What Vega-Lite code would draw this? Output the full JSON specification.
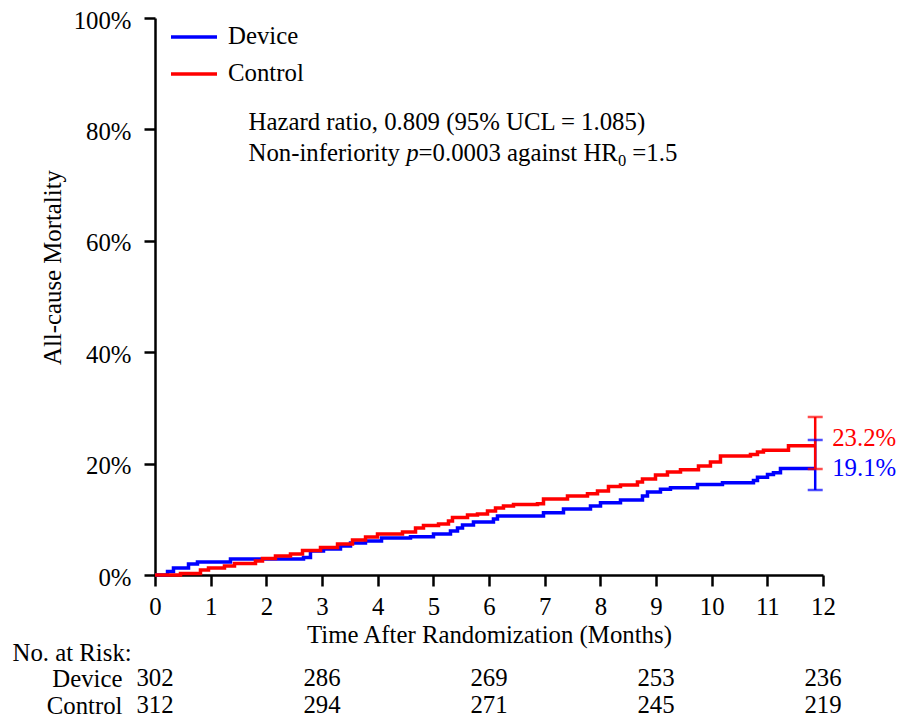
{
  "$schema": "https://vega.github.io/schema/vega-lite/v6.json",
  "autosize": {"type": "pad"},
  "padding": {"left": 12, "top": 8, "right": 5, "bottom": 2},
  "background": "white",
  "bounds": "flush",
  "spacing": 104,
  "config": {
    "font": "Liberation Serif",
    "view": {"stroke": null},
    "axis": {"labelFont": "Liberation Serif", "titleFont": "Liberation Serif", "labelColor": "black", "titleColor": "black", "domainColor": "black", "tickColor": "black", "grid": false, "labelFontSize": 24.8, "titleFontSize": 24.8, "titleFontWeight": "normal"},
    "legend": {"labelFont": "Liberation Serif", "labelFontSize": 24.8, "labelColor": "black"},
    "text": {"font": "Liberation Serif", "fontSize": 24.8}
  },
  "datasets": {
    "km": [
      {"group": "Device", "t": 0, "pct": 0},
      {"group": "Device", "t": 0.225, "pct": 0.63},
      {"group": "Device", "t": 0.332, "pct": 1.26},
      {"group": "Device", "t": 0.602, "pct": 1.97},
      {"group": "Device", "t": 0.763, "pct": 2.33},
      {"group": "Device", "t": 1.356, "pct": 2.87},
      {"group": "Device", "t": 2.668, "pct": 3.14},
      {"group": "Device", "t": 2.793, "pct": 4.31},
      {"group": "Device", "t": 3.027, "pct": 4.67},
      {"group": "Device", "t": 3.332, "pct": 5.21},
      {"group": "Device", "t": 3.512, "pct": 5.75},
      {"group": "Device", "t": 3.781, "pct": 6.10},
      {"group": "Device", "t": 4.069, "pct": 6.64},
      {"group": "Device", "t": 4.590, "pct": 6.88},
      {"group": "Device", "t": 5.003, "pct": 7.36},
      {"group": "Device", "t": 5.308, "pct": 7.90},
      {"group": "Device", "t": 5.434, "pct": 8.44},
      {"group": "Device", "t": 5.524, "pct": 8.98},
      {"group": "Device", "t": 5.721, "pct": 9.52},
      {"group": "Device", "t": 6.080, "pct": 10.05},
      {"group": "Device", "t": 6.152, "pct": 10.59},
      {"group": "Device", "t": 6.979, "pct": 11.19},
      {"group": "Device", "t": 7.338, "pct": 11.85},
      {"group": "Device", "t": 7.823, "pct": 12.39},
      {"group": "Device", "t": 8.003, "pct": 12.98},
      {"group": "Device", "t": 8.362, "pct": 13.46},
      {"group": "Device", "t": 8.757, "pct": 14.18},
      {"group": "Device", "t": 8.847, "pct": 14.90},
      {"group": "Device", "t": 9.080, "pct": 15.38},
      {"group": "Device", "t": 9.260, "pct": 15.67},
      {"group": "Device", "t": 9.745, "pct": 16.27},
      {"group": "Device", "t": 10.194, "pct": 16.55},
      {"group": "Device", "t": 10.751, "pct": 16.98},
      {"group": "Device", "t": 10.823, "pct": 17.57},
      {"group": "Device", "t": 11.003, "pct": 18.06},
      {"group": "Device", "t": 11.110, "pct": 18.36},
      {"group": "Device", "t": 11.236, "pct": 19.10},
      {"group": "Device", "t": 11.86, "pct": 19.10},
      {"group": "Control", "t": 0, "pct": 0},
      {"group": "Control", "t": 0.458, "pct": 0.27},
      {"group": "Control", "t": 0.817, "pct": 0.90},
      {"group": "Control", "t": 0.961, "pct": 1.26},
      {"group": "Control", "t": 1.248, "pct": 1.62},
      {"group": "Control", "t": 1.428, "pct": 2.06},
      {"group": "Control", "t": 1.805, "pct": 2.51},
      {"group": "Control", "t": 1.931, "pct": 2.96},
      {"group": "Control", "t": 2.164, "pct": 3.41},
      {"group": "Control", "t": 2.434, "pct": 3.77},
      {"group": "Control", "t": 2.650, "pct": 4.40},
      {"group": "Control", "t": 2.973, "pct": 4.94},
      {"group": "Control", "t": 3.279, "pct": 5.57},
      {"group": "Control", "t": 3.548, "pct": 6.28},
      {"group": "Control", "t": 3.782, "pct": 6.82},
      {"group": "Control", "t": 3.997, "pct": 7.36},
      {"group": "Control", "t": 4.446, "pct": 7.72},
      {"group": "Control", "t": 4.680, "pct": 8.44},
      {"group": "Control", "t": 4.823, "pct": 8.89},
      {"group": "Control", "t": 5.093, "pct": 9.16},
      {"group": "Control", "t": 5.272, "pct": 9.69},
      {"group": "Control", "t": 5.344, "pct": 10.32},
      {"group": "Control", "t": 5.614, "pct": 10.77},
      {"group": "Control", "t": 5.793, "pct": 10.95},
      {"group": "Control", "t": 5.973, "pct": 11.49},
      {"group": "Control", "t": 6.117, "pct": 12.03},
      {"group": "Control", "t": 6.260, "pct": 12.39},
      {"group": "Control", "t": 6.440, "pct": 12.66},
      {"group": "Control", "t": 6.871, "pct": 12.81},
      {"group": "Control", "t": 6.979, "pct": 13.64},
      {"group": "Control", "t": 7.410, "pct": 14.18},
      {"group": "Control", "t": 7.769, "pct": 14.59},
      {"group": "Control", "t": 7.949, "pct": 15.08},
      {"group": "Control", "t": 8.146, "pct": 15.89},
      {"group": "Control", "t": 8.362, "pct": 16.16},
      {"group": "Control", "t": 8.667, "pct": 16.70},
      {"group": "Control", "t": 8.757, "pct": 17.24},
      {"group": "Control", "t": 8.991, "pct": 17.95},
      {"group": "Control", "t": 9.206, "pct": 18.49},
      {"group": "Control", "t": 9.440, "pct": 18.90},
      {"group": "Control", "t": 9.763, "pct": 19.57},
      {"group": "Control", "t": 9.978, "pct": 20.29},
      {"group": "Control", "t": 10.158, "pct": 21.36},
      {"group": "Control", "t": 10.697, "pct": 21.63},
      {"group": "Control", "t": 10.823, "pct": 22.08},
      {"group": "Control", "t": 10.930, "pct": 22.38},
      {"group": "Control", "t": 11.380, "pct": 23.20},
      {"group": "Control", "t": 11.86, "pct": 23.20}
    ],
    "ends": [
      {"group": "Device", "t": 11.86, "est": 19.1, "lo": 15.26, "hi": 24.24, "label": "19.1%"},
      {"group": "Control", "t": 11.86, "est": 23.2, "lo": 19.03, "hi": 28.37, "label": "23.2%"}
    ],
    "risk": [
      {"group": "Device", "t": 0, "n": 302},
      {"group": "Device", "t": 3, "n": 286},
      {"group": "Device", "t": 6, "n": 269},
      {"group": "Device", "t": 9, "n": 253},
      {"group": "Device", "t": 12, "n": 236},
      {"group": "Control", "t": 0, "n": 312},
      {"group": "Control", "t": 3, "n": 294},
      {"group": "Control", "t": 6, "n": 271},
      {"group": "Control", "t": 9, "n": 245},
      {"group": "Control", "t": 12, "n": 219}
    ]
  },
  "vconcat": [
    {
      "width": 668,
      "height": 557,
      "layer": [
        {
          "data": {"name": "km"},
          "mark": {"type": "line", "interpolate": "step-after", "strokeWidth": 3.5},
          "encoding": {
            "x": {"field": "t", "type": "quantitative", "scale": {"domain": [0, 12], "nice": false},
              "axis": {"values": [0,1,2,3,4,5,6,7,8,9,10,11,12], "format": "d", "labelFlush": false, "tickSize": 11, "tickWidth": 2.5, "domainWidth": 2.5, "labelBaseline": "middle", "labelPadding": 21, "title": "Time After Randomization (Months)", "titleBaseline": "middle", "titleY": 60}},
            "y": {"field": "pct", "type": "quantitative", "scale": {"domain": [0, 100], "nice": false},
              "axis": {"values": [0,20,40,60,80,100], "labelExpr": "datum.value + '%'", "tickSize": 11, "tickWidth": 2.5, "domainWidth": 2.5, "labelPadding": 13, "labelOffset": 3, "title": "All-cause Mortality", "titleAngle": 270, "titleAlign": "center", "titleBaseline": "middle", "titleX": -102, "titleY": 249}},
            "color": {"field": "group", "type": "nominal",
              "scale": {"domain": ["Device", "Control"], "range": ["#0000FF", "#FF0000"]},
              "legend": {"orient": "none", "legendX": 14, "legendY": -6, "title": null, "symbolType": "stroke", "symbolSize": 2116, "symbolStrokeWidth": 3.5, "labelOffset": 9, "rowPadding": -6, "padding": 0}}
          }
        },
        {
          "data": {"name": "ends"},
          "mark": {"type": "rule", "strokeWidth": 2.5},
          "encoding": {
            "x": {"field": "t", "type": "quantitative"},
            "y": {"field": "lo", "type": "quantitative"},
            "y2": {"field": "hi"},
            "color": {"field": "group", "type": "nominal", "legend": null}
          }
        },
        {
          "data": {"name": "ends"},
          "mark": {"type": "tick", "orient": "horizontal", "size": 15, "thickness": 2.5},
          "encoding": {
            "x": {"field": "t", "type": "quantitative"},
            "y": {"field": "lo", "type": "quantitative"},
            "color": {"field": "group", "type": "nominal", "legend": null}
          }
        },
        {
          "data": {"name": "ends"},
          "mark": {"type": "tick", "orient": "horizontal", "size": 15, "thickness": 2.5},
          "encoding": {
            "x": {"field": "t", "type": "quantitative"},
            "y": {"field": "hi", "type": "quantitative"},
            "color": {"field": "group", "type": "nominal", "legend": null}
          }
        },
        {
          "data": {"name": "ends"},
          "transform": [{"filter": "datum.group === 'Control'"}],
          "mark": {"type": "text", "align": "left", "baseline": "middle", "dx": 17, "dy": -7},
          "encoding": {
            "x": {"field": "t", "type": "quantitative"},
            "y": {"field": "est", "type": "quantitative"},
            "text": {"field": "label"},
            "color": {"field": "group", "type": "nominal", "legend": null}
          }
        },
        {
          "data": {"name": "ends"},
          "transform": [{"filter": "datum.group === 'Device'"}],
          "mark": {"type": "text", "align": "left", "baseline": "middle", "dx": 17, "dy": 0},
          "encoding": {
            "x": {"field": "t", "type": "quantitative"},
            "y": {"field": "est", "type": "quantitative"},
            "text": {"field": "label"},
            "color": {"field": "group", "type": "nominal", "legend": null}
          }
        },
        {
          "data": {"values": [{"note": "Hazard ratio, 0.809 (95% UCL = 1.085)"}]},
          "mark": {"type": "text", "align": "left", "baseline": "middle", "color": "black"},
          "encoding": {
            "x": {"datum": 1.68, "type": "quantitative"},
            "y": {"datum": 81.15, "type": "quantitative"},
            "text": {"field": "note"}
          }
        },
        {
          "data": {"values": [{"note": "Non-inferiority"}]},
          "mark": {"type": "text", "align": "left", "baseline": "middle", "color": "black"},
          "encoding": {
            "x": {"datum": 1.68, "type": "quantitative"},
            "y": {"datum": 75.58, "type": "quantitative"},
            "text": {"field": "note"}
          }
        },
        {
          "data": {"values": [{"note": "p"}]},
          "mark": {"type": "text", "align": "left", "baseline": "middle", "fontStyle": "italic", "color": "black", "dx": 157.7},
          "encoding": {
            "x": {"datum": 1.68, "type": "quantitative"},
            "y": {"datum": 75.58, "type": "quantitative"},
            "text": {"field": "note"}
          }
        },
        {
          "data": {"values": [{"note": "=0.0003 against HR"}]},
          "mark": {"type": "text", "align": "left", "baseline": "middle", "color": "black", "dx": 170.1},
          "encoding": {
            "x": {"datum": 1.68, "type": "quantitative"},
            "y": {"datum": 75.58, "type": "quantitative"},
            "text": {"field": "note"}
          }
        },
        {
          "data": {"values": [{"note": "0"}]},
          "mark": {"type": "text", "align": "left", "baseline": "middle", "fontSize": 16.5, "color": "black", "dx": 369.4, "dy": 7},
          "encoding": {
            "x": {"datum": 1.68, "type": "quantitative"},
            "y": {"datum": 75.58, "type": "quantitative"},
            "text": {"field": "note"}
          }
        },
        {
          "data": {"values": [{"note": "=1.5"}]},
          "mark": {"type": "text", "align": "left", "baseline": "middle", "color": "black", "dx": 383.8},
          "encoding": {
            "x": {"datum": 1.68, "type": "quantitative"},
            "y": {"datum": 75.58, "type": "quantitative"},
            "text": {"field": "note"}
          }
        }
      ]
    },
    {
      "width": 668,
      "height": 27,
      "data": {"name": "risk"},
      "mark": {"type": "text", "baseline": "middle", "align": "center", "color": "black"},
      "encoding": {
        "x": {"field": "t", "type": "quantitative", "scale": {"domain": [0, 12], "nice": false}, "axis": null},
        "y": {"field": "group", "type": "nominal",
          "scale": {"type": "point", "domain": ["Device", "Control"], "padding": 0},
          "axis": {"title": "No. at Risk:", "titleAngle": 0, "titleAlign": "left", "titleBaseline": "middle", "titleX": -143, "titleY": -26, "domain": false, "ticks": false, "tickSize": 0, "labelPadding": 33}},
        "text": {"field": "n", "type": "quantitative"}
      }
    }
  ]
}
